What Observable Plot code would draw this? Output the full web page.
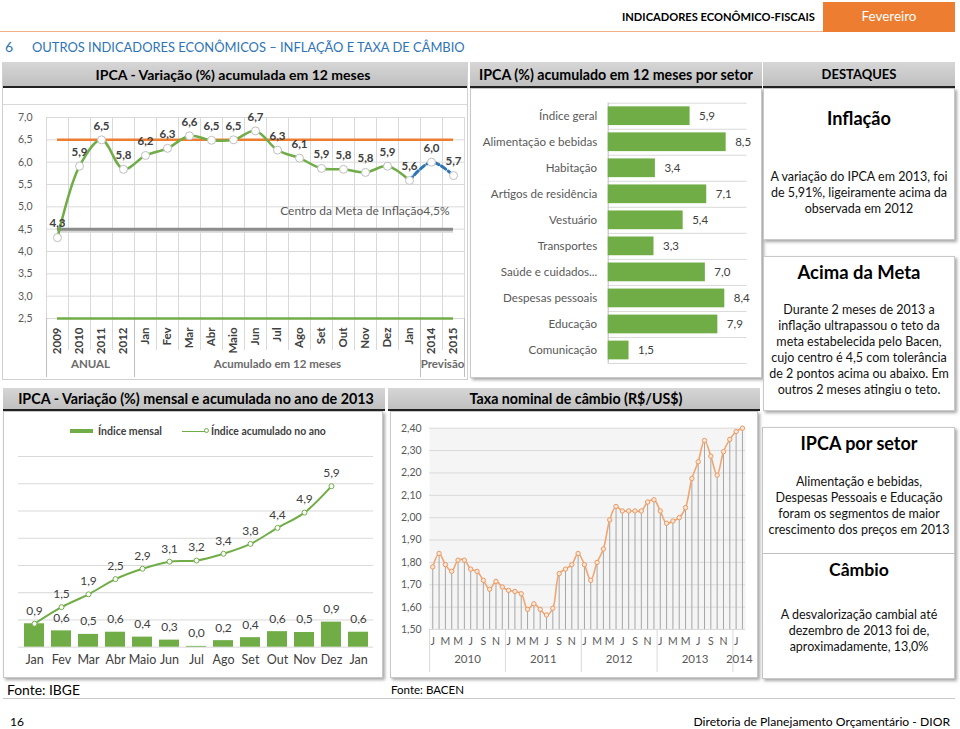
<!DOCTYPE html>
<html><head><meta charset="utf-8">
<script src="https://cdn.jsdelivr.net/npm/d3@7"></script>
<script src="https://cdn.jsdelivr.net/npm/@observablehq/plot@0.6"></script>
<style>
body{margin:0;background:#fff;}
#page{position:relative;width:960px;height:729px;overflow:hidden;font-family:Lato,"Open Sans",sans-serif;color:#000;background:#fff;}
</style>
</head><body><div id="page"></div>
<script>
// ---------------- DATA ----------------
const ipca12Cats = ["2009","2010","2011","2012","Jan","Fev","Mar","Abr","Maio","Jun","Jul","Ago","Set","Out","Nov","Dez","Jan","2014","2015"];
const ipca12Vals = [4.31,5.91,6.50,5.84,6.15,6.31,6.59,6.49,6.50,6.70,6.27,6.09,5.86,5.84,5.77,5.91,5.59,6.00,5.70];
const ipca12Groups = ["ANUAL","Acumulado em 12 meses","Previsão"];
const ipca12GroupSizes = [4,13,2];
const ipca12Ticks = [2.5,3.0,3.5,4.0,4.5,5.0,5.5,6.0,6.5,7.0];
const metaTeto = 6.5, metaCentro = 4.5, metaPiso = 2.5;

const setorCats = ["Índice geral","Alimentação e bebidas","Habitação","Artigos de residência","Vestuário","Transportes","Saúde e cuidados...","Despesas pessoais","Educação","Comunicação"];
const setorVals = [5.9,8.5,3.4,7.1,5.4,3.3,7.0,8.4,7.9,1.5];

const mesCats = ["Jan","Fev","Mar","Abr","Maio","Jun","Jul","Ago","Set","Out","Nov","Dez","Jan"];
const mensalVals = [0.86,0.60,0.47,0.55,0.37,0.26,0.03,0.24,0.35,0.57,0.54,0.92,0.55];
const acumVals = [0.86,1.47,1.94,2.50,2.88,3.14,3.18,3.43,3.79,4.38,4.94,5.91];
const mesTicks = [0,1,2,3,4,5,6,7];

const cambioYears = ["2010","2011","2012","2013","2014"];
const cambioYearSizes = [12,12,12,12,2];
const cambioMonthLetters = ["J","F","M","A","M","J","J","A","S","O","N","D"];
const cambioVals = [
 1.78,1.84,1.79,1.76,1.81,1.81,1.77,1.76,1.72,1.68,1.715,1.69,
 1.675,1.67,1.66,1.59,1.615,1.59,1.565,1.595,1.75,1.77,1.79,1.84,
 1.79,1.72,1.80,1.86,1.99,2.05,2.03,2.03,2.03,2.03,2.07,2.08,
 2.03,1.975,1.985,2.00,2.045,2.175,2.25,2.345,2.275,2.19,2.295,2.35,
 2.385,2.40];
const cambioTicks = [1.5,1.6,1.7,1.8,1.9,2.0,2.1,2.2,2.3,2.4];

// ---------------- HELPERS ----------------
const page = document.getElementById("page");
const fmt1 = v => (Math.round(v*10)/10).toFixed(1).replace(".", ",");
const fmt2 = v => v.toFixed(2).replace(".", ",");
function rect(x,y,w,h,css){const e=document.createElement("div");e.style.cssText=`position:absolute;left:${x}px;top:${y}px;width:${w}px;height:${h}px;box-sizing:border-box;${css||""}`;page.appendChild(e);return e;}
function place(text,o){
  const e=document.createElement("div");
  e.textContent=text;
  e.style.cssText=`position:absolute;white-space:nowrap;line-height:1;font-size:${o.size}px;font-weight:${o.weight||"normal"};color:${o.color||"#000"};`;
  page.appendChild(e);
  let r=e.getBoundingClientRect();
  if(o.fit){e.style.fontSize=(o.size*o.fit/r.width)+"px";r=e.getBoundingClientRect();}
  const left=o.anchor==="middle"?o.x-r.width/2:o.anchor==="end"?o.x-r.width:o.x;
  e.style.left=left+"px";e.style.top=(o.y-r.height/2)+"px";
  return e;
}
function mount(svg,x,y){const d=document.createElement("div");d.style.cssText=`position:absolute;left:${x}px;top:${y}px;width:${svg.getAttribute("width")}px;`;d.appendChild(svg);page.appendChild(d);}
const hdrCss="background:linear-gradient(#d6d6d6,#c0c0c0);border-bottom:2px solid #222;";
const boxCss="background:#fff;border:1px solid #c8c8c8;box-shadow:2px 2px 3px rgba(0,0,0,.35);";
const pStyle={background:"transparent",fontFamily:"Lato, sans-serif",overflow:"visible"};

// ---------------- PAGE HEADER ----------------
rect(0,31,823,1,"background:#F0B088;");
place("INDICADORES ECONÔMICO-FISCAIS",{x:622,y:17,size:12,weight:"bold",fit:193});
rect(823,2,132,30,"background:#ED7D31;");
place("Fevereiro",{x:889,y:17,size:14,color:"#fff",anchor:"middle",fit:55});
place("6",{x:5,y:47,size:14,color:"#2E74B5"});
place("OUTROS INDICADORES ECONÔMICOS – INFLAÇÃO E TAXA DE CÂMBIO",{x:32,y:47,size:14,color:"#2E74B5",fit:433});

// ---------------- PANEL A ----------------
rect(2,62,466,318,"border:1px solid #d0d0d0;background:#fff;");
rect(3,62,464,26,hdrCss);
place("IPCA - Variação (%) acumulada em 12 meses",{x:233,y:75,size:13,weight:"bold",anchor:"middle",fit:275});
rect(3,104,464,274,"border-top:1px solid #d9d9d9;");
{
  const A = ipca12Cats.map((c,i)=>({i,c,v:ipca12Vals[i]}));
  const n = A.length;
  const edges = d3.range(-0.5,n,1);
  let acc=0;
  const groups = ipca12Groups.map((g,k)=>{const s=acc;acc+=ipca12GroupSizes[k];return {g,x:(s+acc-1)/2,e:acc-0.5};});
  const groupEdges=[-0.5,...groups.map(d=>d.e)];
  const realized=A.slice(0,n-2), forecast=A.slice(n-3);
  const svg = Plot.plot({
    width:470,height:280,marginLeft:46,marginRight:6,marginTop:17,marginBottom:62,
    style:pStyle,
    x:{domain:[-0.5,n-0.5],axis:null},
    y:{domain:[ipca12Ticks[0],ipca12Ticks[ipca12Ticks.length-1]],axis:null},
    marks:[
      Plot.gridY(ipca12Ticks,{stroke:"#d9d9d9",strokeOpacity:1}),
      Plot.gridX(edges,{stroke:"#d9d9d9",strokeOpacity:1}),
      Plot.axisX(edges,{tickSize:32,tickFormat:()=>"",stroke:"#d9d9d9",strokeOpacity:1,label:null}),
      Plot.axisX(groupEdges,{tickSize:59,tickFormat:()=>"",stroke:"#bfbfbf",strokeOpacity:1,label:null}),
      Plot.axisX(A.map(d=>d.i),{tickRotate:-90,tickSize:0,tickPadding:9,tickFormat:i=>ipca12Cats[i],fontWeight:"bold",fontSize:11.5,fill:"#404040",label:null}),
      Plot.axisY(ipca12Ticks,{tickSize:0,tickPadding:14,tickFormat:fmt1,fontSize:10.5,fill:"#595959",label:null}),
      Plot.text(groups,{x:"x",text:"g",frameAnchor:"bottom",dy:49,fontWeight:"bold",fontSize:11.5,fill:"#6b6b6b"}),
      Plot.ruleY([metaPiso],{x1:0,x2:n-1,stroke:"#70AD47",strokeWidth:2.5}),
      Plot.ruleY([metaCentro],{x1:0,x2:n-1,stroke:"#d6d6d6",strokeWidth:3,dy:2}),
      Plot.ruleY([metaCentro],{x1:0,x2:n-1,stroke:"#8c8c8c",strokeWidth:3}),
      Plot.ruleY([metaTeto],{x1:0,x2:n-1,stroke:"#ED7D31",strokeWidth:2.5}),
      Plot.text([metaCentro],{x:n-1,y:d=>d,text:d=>"Centro da Meta de Inflação"+fmt1(d)+"%",textAnchor:"end",dx:-4,dy:-18,fill:"#595959",fontSize:12}),
      Plot.line(realized,{x:"i",y:"v",stroke:"#70AD47",strokeWidth:2.5,curve:"catmull-rom"}),
      Plot.line(forecast,{x:"i",y:"v",stroke:"#2E75B6",strokeWidth:3,strokeDasharray:"5,3",curve:"catmull-rom"}),
      Plot.dot(A,{x:"i",y:"v",r:4,fill:"white",stroke:"#bfbfbf",strokeWidth:1}),
      Plot.text(A,{x:"i",y:"v",text:d=>fmt1(d.v),dy:-14,fontWeight:"bold",fontSize:11.5,fill:"#404040"})
    ]
  });
  mount(svg,0,100);
}

// ---------------- PANEL B ----------------
rect(470,62,292,26,hdrCss);
place("IPCA (%) acumulado em 12 meses por setor",{x:616,y:75,size:13,weight:"bold",anchor:"middle",fit:274});
rect(470,88,292,290,boxCss);
{
  const B = setorCats.map((c,i)=>({i,c,v:setorVals[i]}));
  const svg = Plot.plot({
    width:292,height:280,marginLeft:137.7,marginRight:15.5,marginTop:7.7,marginBottom:12,
    style:pStyle,
    x:{domain:[0,10],axis:null},
    y:{domain:[-0.5,B.length-0.5],reverse:true,axis:null},
    marks:[
      Plot.gridY(d3.range(-0.5,B.length,1),{stroke:"#d9d9d9",strokeOpacity:1}),
      Plot.ruleX([0],{stroke:"#bfbfbf"}),
      Plot.rectX(B,{x:"v",y1:d=>d.i-0.36,y2:d=>d.i+0.36,fill:"#70AD47"}),
      Plot.axisY(B.map(d=>d.i),{tickSize:0,tickPadding:11,tickFormat:i=>setorCats[i],fontSize:11.6,fill:"#595959",label:null}),
      Plot.text(B,{x:"v",y:"i",text:d=>fmt1(d.v),textAnchor:"start",dx:9,fontSize:11.5,fill:"#404040"})
    ]
  });
  mount(svg,470,95);
}

// ---------------- DESTAQUES ----------------
rect(763,62,192,26,hdrCss);
place("DESTAQUES",{x:859,y:75,size:13,weight:"bold",anchor:"middle",fit:75});
rect(763,88,192,152,boxCss);
rect(763,256,192,155,boxCss);
rect(762,427,193,252,boxCss);
rect(763,553,191,1,"background:#bfbfbf;");
const cx=859, ps=12.5;
place("Inflação",{x:cx,y:118,size:16,weight:"bold",anchor:"middle",fit:64});
["A variação do IPCA em 2013,  foi","de 5,91%, ligeiramente acima da","observada em 2012"].forEach((t,k)=>place(t,{x:cx,y:177+16*k,size:ps,anchor:"middle",color:"#111"}));
place("Acima da Meta",{x:cx,y:272,size:16,weight:"bold",anchor:"middle",fit:123});
["Durante 2 meses de 2013 a","inflação ultrapassou o teto da","meta estabelecida pelo Bacen,","cujo centro é 4,5 com tolerância","de 2 pontos acima ou abaixo. Em","outros 2 meses atingiu o teto."].forEach((t,k)=>place(t,{x:cx,y:310+16*k,size:ps,anchor:"middle",color:"#111"}));
place("IPCA por setor",{x:cx,y:443,size:16,weight:"bold",anchor:"middle",fit:117});
["Alimentação e bebidas,","Despesas Pessoais e Educação","foram os segmentos de maior","crescimento dos preços em 2013"].forEach((t,k)=>place(t,{x:cx,y:482+16*k,size:ps,anchor:"middle",color:"#111"}));
place("Câmbio",{x:cx,y:570,size:16,weight:"bold",anchor:"middle",fit:60});
["A desvalorização cambial até","dezembro de 2013 foi de,","aproximadamente, 13,0%"].forEach((t,k)=>place(t,{x:cx,y:615+16*k,size:ps,anchor:"middle",color:"#111"}));

// ---------------- PANEL C ----------------
rect(3,388,382,23,hdrCss);
place("IPCA - Variação (%) mensal e acumulada no ano de  2013",{x:196,y:399,size:13,weight:"bold",anchor:"middle",fit:356});
rect(3,411,380,267,boxCss);
rect(70,429,23,4,"background:#70AD47;");
place("Índice mensal",{x:98,y:431,size:11,weight:"bold",color:"#404040",fit:64});
rect(182,430.5,24,1.5,"background:#70AD47;");
rect(204,428,5,5,"border:1px solid #70AD47;border-radius:50%;background:#fff;");
place("Índice acumulado no ano",{x:211,y:431,size:11,weight:"bold",color:"#404040",fit:115});
{
  const C = mesCats.map((c,i)=>({i,c,m:mensalVals[i],a:acumVals[i]}));
  const Cacc = C.filter(d=>d.a!=null);
  const Cm = C.filter(d=>d.a==null || fmt1(d.a)!==fmt1(d.m));
  const svg = Plot.plot({
    width:385,height:260,marginLeft:18,marginRight:12,marginTop:41,marginBottom:28.3,
    style:pStyle,
    x:{type:"band",domain:C.map(d=>d.i),paddingInner:0.27,paddingOuter:0.135,axis:null},
    y:{domain:[mesTicks[0],mesTicks[mesTicks.length-1]],axis:null},
    marks:[
      Plot.gridY(mesTicks,{stroke:"#d9d9d9",strokeOpacity:1}),
      Plot.barY(C,{x:"i",y:"m",fill:"#70AD47"}),
      Plot.line(Cacc,{x:"i",y:"a",stroke:"#70AD47",strokeWidth:2,curve:"catmull-rom"}),
      Plot.dot(Cacc,{x:"i",y:"a",r:2.5,fill:"white",stroke:"#70AD47",strokeWidth:1}),
      Plot.text(Cm,{x:"i",y:"m",text:d=>fmt1(d.m),dy:-13,fontSize:12,fill:"#404040"}),
      Plot.text(Cacc,{x:"i",y:"a",text:d=>fmt1(d.a),dy:-13,fontSize:12,fill:"#404040"}),
      Plot.axisX(C.map(d=>d.i),{tickSize:0,tickPadding:8,tickFormat:i=>mesCats[i],fontSize:12.5,fill:"#404040",label:null})
    ]
  });
  mount(svg,0,415);
}
place("Fonte: IBGE",{x:7,y:690,size:13,fit:73});

// ---------------- PANEL D ----------------
rect(388,388,372,23,hdrCss);
place("Taxa nominal de câmbio (R$/US$)",{x:576,y:399,size:13,weight:"bold",anchor:"middle",fit:213});
rect(390,411,368,267,boxCss);
{
  const D = cambioVals.map((v,i)=>({i,v}));
  let acc=0;
  const years = cambioYears.map((y,k)=>{const s=acc;acc+=cambioYearSizes[k];return {y,x:(s+acc-1)/2,e:acc-0.5};});
  const yearEdges=[-0.5,...years.slice(0,-1).map(d=>d.e)];
  const svg = Plot.plot({
    width:372,height:262,marginLeft:41.1,marginRight:14.9,marginTop:12.7,marginBottom:48,
    style:pStyle,
    x:{domain:[-0.5,D.length-0.5],axis:null},
    y:{domain:[cambioTicks[0],cambioTicks[cambioTicks.length-1]],axis:null},
    marks:[
      Plot.frame({fill:"#f5f5f5",stroke:null}),
      Plot.gridY(cambioTicks,{stroke:"#d9d9d9",strokeOpacity:1}),
      Plot.ruleX(D,{x:"i",y1:cambioTicks[0],y2:"v",stroke:"#a6a6a6",strokeWidth:1}),
      Plot.line(D,{x:"i",y:"v",stroke:"#F2A56E",strokeWidth:1.6,curve:"catmull-rom"}),
      Plot.dot(D,{x:"i",y:"v",r:2.2,fill:"#FCE4D6",stroke:"#E59C66",strokeWidth:1}),
      Plot.axisY(cambioTicks,{tickSize:0,tickPadding:8,tickFormat:fmt2,fontSize:10.5,fill:"#595959",label:null}),
      Plot.axisX(D.filter(d=>d.i%2===0).map(d=>d.i),{tickSize:0,tickPadding:8,tickFormat:i=>cambioMonthLetters[i%12],fontSize:10.5,fill:"#595959",label:null}),
      Plot.axisX(yearEdges,{tickSize:43,tickFormat:()=>"",stroke:"#d9d9d9",strokeOpacity:1,label:null}),
      Plot.text(years,{x:"x",text:"y",frameAnchor:"bottom",dy:33,fontSize:11.5,fill:"#595959"})
    ]
  });
  mount(svg,388,415);
}
place("Fonte: BACEN",{x:391,y:690,size:12,fit:73});

// ---------------- FOOTER ----------------
rect(3,698,952,1,"background:#c8c8c8;");
place("16",{x:10,y:722,size:12});
place("Diretoria de Planejamento Orçamentário - DIOR",{x:950,y:722,size:12,anchor:"end",fit:257});
</script>
</body></html>
